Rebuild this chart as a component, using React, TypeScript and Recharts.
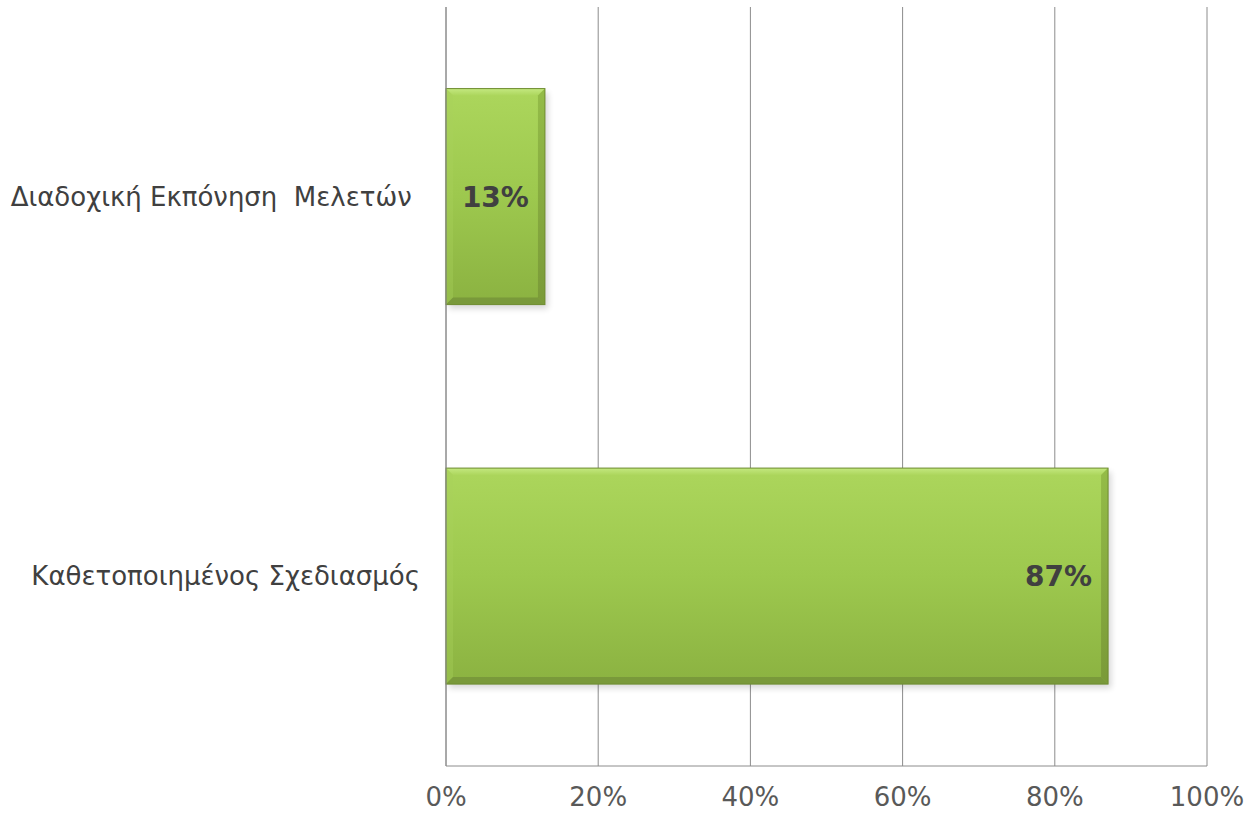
import React from "react";
import { BarChart, Bar, XAxis, YAxis, CartesianGrid, LabelList } from "recharts";

const categories = ["Διαδοχική Εκπόνηση  Μελετών ", "Καθετοποιημένος Σχεδιασμός"];
const shares = [13, 87];
const tickValues = [0, 20, 40, 60, 80, 100];
const tickLabels = ["0%", "20%", "40%", "60%", "80%", "100%"];

const data = categories.map((name, i) => ({ name, value: shares[i] }));

const FONT = "'DejaVu Sans', Verdana, sans-serif";

const BevelBar = (props: any) => {
  const { x, y, width, height } = props;
  if (!width || !height) return null;
  const b = 7;
  const r = x + width;
  const btm = y + height;
  return (
    <g>
      <rect x={x + 3} y={y + 4} width={width} height={height} fill="#000" opacity={0.16} filter="url(#barShadow)" />
      <rect x={x} y={y} width={width} height={height} fill="url(#barGrad)" />
      <polygon points={`${x},${y} ${r},${y} ${r - b},${y + b} ${x + b},${y + b}`} fill="url(#topBevel)" />
      <polygon points={`${x},${y} ${x + b},${y + b} ${x + b},${btm - b} ${x},${btm}`} fill="#a8d25c" opacity={0.35} />
      <polygon points={`${r},${y} ${r},${btm} ${r - b},${btm - b} ${r - b},${y + b}`} fill="url(#rightBevel)" />
      <polygon points={`${x},${btm} ${r},${btm} ${r - b},${btm - b} ${x + b},${btm - b}`} fill="#76943a" opacity={0.85} />
      <rect x={x} y={y} width={width} height={height} fill="none" stroke="#6f8c31" strokeWidth={1} />
    </g>
  );
};

const CategoryTick = (props: any) => {
  const { x, y, payload } = props;
  return (
    <text
      x={x}
      y={y}
      dy="0.35em"
      textAnchor="end"
      fill="#404040"
      fontSize={26}
      fontFamily={FONT}
      style={{ whiteSpace: "pre" }}
    >
      {payload.value}
    </text>
  );
};

export default function App() {
  return (
    <div style={{ position: "absolute", left: 0, top: 0, width: 1252, height: 815, background: "#fff" }}>
      <BarChart
        width={1252}
        height={815}
        data={data}
        layout="vertical"
        margin={{ top: 7, right: 45, bottom: 0, left: 0 }}
        barCategoryGap="21.5%"
      >
        <defs>
          <linearGradient id="barGrad" x1="0" y1="0" x2="0" y2="1">
            <stop offset="0%" stopColor="#acd65c" />
            <stop offset="50%" stopColor="#9dc84e" />
            <stop offset="100%" stopColor="#8bb241" />
          </linearGradient>
          <linearGradient id="topBevel" x1="0" y1="0" x2="0" y2="1">
            <stop offset="0%" stopColor="#c4e880" />
            <stop offset="100%" stopColor="#acd65c" />
          </linearGradient>
          <linearGradient id="rightBevel" x1="0" y1="0" x2="0" y2="1">
            <stop offset="0%" stopColor="#94bc48" />
            <stop offset="100%" stopColor="#7a9a38" />
          </linearGradient>
          <filter id="barShadow" x="-10%" y="-10%" width="130%" height="130%">
            <feGaussianBlur stdDeviation="3" />
          </filter>
        </defs>
        <CartesianGrid horizontal={false} stroke="#8c8c8c" strokeWidth={1} />
        <XAxis
          type="number"
          domain={[0, 100]}
          ticks={tickValues}
          tickFormatter={(v: number) => tickLabels[tickValues.indexOf(v)]}
          axisLine={{ stroke: "#8c8c8c" }}
          tickLine={false}
          tickMargin={16}
          height={49}
          tick={{ fill: "#595959", fontSize: 26, fontFamily: FONT }}
        />
        <YAxis
          type="category"
          dataKey="name"
          width={446}
          axisLine={{ stroke: "#8c8c8c" }}
          tickLine={false}
          tickMargin={20}
          tick={<CategoryTick />}
        />
        <Bar dataKey="value" isAnimationActive={false} shape={<BevelBar />}>
          <LabelList
            dataKey="value"
            position="insideRight"
            offset={16}
            formatter={(v: number) => `${v}%`}
            fill="#404040"
            fontSize={28}
            fontWeight="bold"
            fontFamily={FONT}
          />
        </Bar>
      </BarChart>
    </div>
  );
}
